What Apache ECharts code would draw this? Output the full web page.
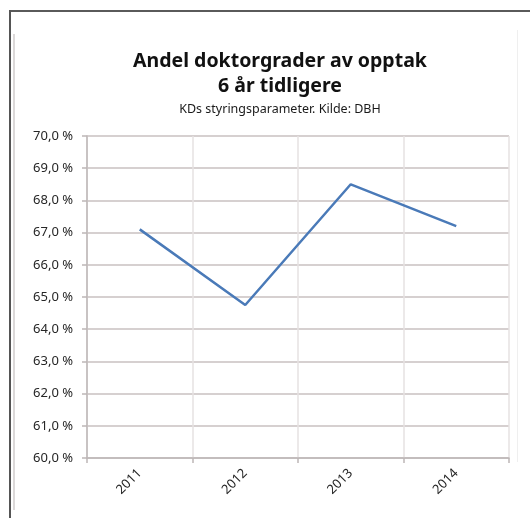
<!DOCTYPE html>
<html>
<head>
<meta charset="utf-8">
<script src="https://cdn.jsdelivr.net/npm/echarts@6/dist/echarts.min.js"></script>
<style>
html,body{margin:0;padding:0;background:#fff;}
#chart{width:530px;height:518px;}
</style>
</head>
<body>
<div id="chart"></div>
<script>
const categories = ['2011', '2012', '2013', '2014'];
const values = [67.1, 64.75, 68.5, 67.2];
const titleLines = ['Andel doktorgrader av opptak', '6 år tidligere'];
const subtitle = 'KDs styringsparameter. Kilde: DBH';

const chart = echarts.init(document.getElementById('chart'), null, {renderer: 'canvas'});
const font = '"Noto Sans", "Open Sans", sans-serif';
chart.setOption({
  backgroundColor: '#ffffff',
  animation: false,
  title: {
    text: titleLines.join('\n'),
    subtext: subtitle,
    left: 275,
    top: 44,
    textAlign: 'center',
    itemGap: 3,
    textStyle: {fontFamily: font, fontSize: 19.5, fontWeight: 'bold', color: '#111', lineHeight: 25},
    subtextStyle: {fontFamily: font, fontSize: 12.5, color: '#1a1a1a', lineHeight: 15}
  },
  grid: {left: 87, right: 21, top: 136, bottom: 60, containLabel: false},
  xAxis: {
    type: 'category',
    data: categories,
    boundaryGap: true,
    axisLine: {show: true, lineStyle: {color: '#bdb6b6', width: 1.5}},
    axisTick: {show: true, length: 5, alignWithLabel: false, lineStyle: {color: '#bdb6b6', width: 1.5}},
    axisLabel: {rotate: 45, margin: 13, fontFamily: font, fontSize: 13, color: '#262626'},
    splitLine: {show: true, lineStyle: {color: '#e6e2e2', width: 1.5}}
  },
  yAxis: {
    type: 'value',
    min: 60,
    max: 70,
    interval: 1,
    axisLine: {show: true, lineStyle: {color: '#bdb6b6', width: 1.5}},
    axisTick: {show: true, length: 5, lineStyle: {color: '#bdb6b6', width: 1.5}},
    axisLabel: {
      margin: 14,
      fontFamily: font, fontSize: 13, color: '#262626',
      formatter: v => v.toFixed(1).replace('.', ',') + ' %'
    },
    splitLine: {show: true, lineStyle: {color: '#c9c1c1', width: 1.5}}
  },
  series: [{
    type: 'line',
    data: values,
    symbol: 'none',
    lineStyle: {color: '#4a7ab8', width: 2.5}
  }],
  graphic: [
    {type: 'line', shape: {x1: 9, y1: 11, x2: 530, y2: 11}, style: {stroke: '#5a5a5a', lineWidth: 2}},
    {type: 'line', shape: {x1: 10, y1: 10, x2: 10, y2: 518}, style: {stroke: '#555555', lineWidth: 2}},
    {type: 'line', shape: {x1: 14, y1: 34, x2: 14, y2: 510}, style: {stroke: '#d0cccc', lineWidth: 1.5}},
    {type: 'line', shape: {x1: 517.5, y1: 30, x2: 517.5, y2: 462}, style: {stroke: '#efefef', lineWidth: 1}}
  ]
});
</script>
</body>
</html>
